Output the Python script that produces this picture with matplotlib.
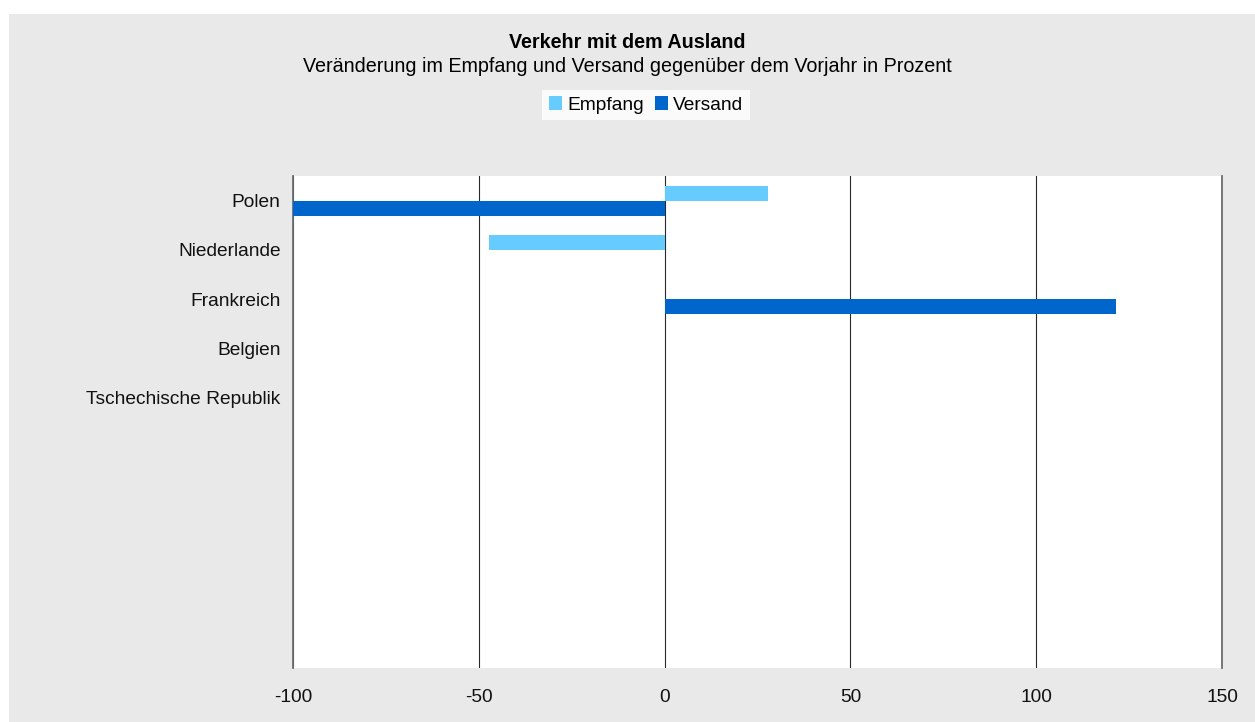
import numpy as np
import matplotlib.pyplot as plt
from matplotlib.patches import Rectangle

plt.rcParams['font.family'] = ['Liberation Sans', 'DejaVu Sans']

# data (Veränderung gegenüber Vorjahr in %)
laender = ['Polen', 'Niederlande', 'Frankreich', 'Belgien', 'Tschechische Republik',
           '', '', '', '', '']
empfang = [27.8, -47.2, np.nan, np.nan, np.nan, np.nan, np.nan, np.nan, np.nan, np.nan]
versand = [-100.0, np.nan, 121.6, np.nan, np.nan, np.nan, np.nan, np.nan, np.nan, np.nan]
xticks = [-100, -50, 0, 50, 100, 150]

W, H = 1255, 722
fig = plt.figure(figsize=(W / 100, H / 100), dpi=100)
fig.patch.set_facecolor('white')
fig.patches.append(Rectangle((9 / W, 0), 1 - 9 / W, 1 - 14 / H, transform=fig.transFigure,
                             facecolor='#e9e9e9', edgecolor='none', zorder=-10))

ax = fig.add_axes([293 / W, (H - 668) / H, (1222 - 293) / W, (668 - 176) / H])
ax.set_facecolor('white')

y = np.arange(len(laender))
h = 0.305
ax.barh(y - h / 2, empfang, height=h, color='#66ccff', label='Empfang', zorder=3)
ax.barh(y + h / 2, versand, height=h, color='#0066cc', label='Versand', zorder=3)

ax.set_xlim(-100, 150)
ax.set_ylim(len(laender) - 0.5, -0.5)
ax.set_xticks(xticks)
ax.set_xticklabels([str(t) for t in xticks])
ax.set_yticks(y)
ax.set_yticklabels(laender)
fs = 13.8
ax.tick_params(axis='both', length=0, labelsize=fs, colors='#111111')
ax.tick_params(axis='x', pad=15)
ax.tick_params(axis='y', pad=9)

ax.xaxis.grid(True, color='#2a2a2a', linewidth=0.8, zorder=1)
for s in ['top', 'bottom']:
    ax.spines[s].set_visible(False)
for s in ['left', 'right']:
    ax.spines[s].set_color('#6e6e6e')
    ax.spines[s].set_linewidth(1.3)

fig.text(0.5, 1 - 42 / H, 'Verkehr mit dem Ausland', ha='center', va='center',
         fontsize=14.2, fontweight='bold')
fig.text(0.5, 1 - 67 / H, 'Veränderung im Empfang und Versand gegenüber dem Vorjahr in Prozent',
         ha='center', va='center', fontsize=14.2)

leg = fig.legend(loc='center', bbox_to_anchor=(646 / W, 1 - 105 / H), ncol=2,
                 frameon=True, fancybox=False, facecolor='white', edgecolor='white',
                 fontsize=fs, handlelength=0.7, handleheight=0.7, handletextpad=0.25,
                 columnspacing=0.6, borderpad=0.35, borderaxespad=0)
leg.get_frame().set_linewidth(0)

fig.savefig('out.png', dpi=100)
